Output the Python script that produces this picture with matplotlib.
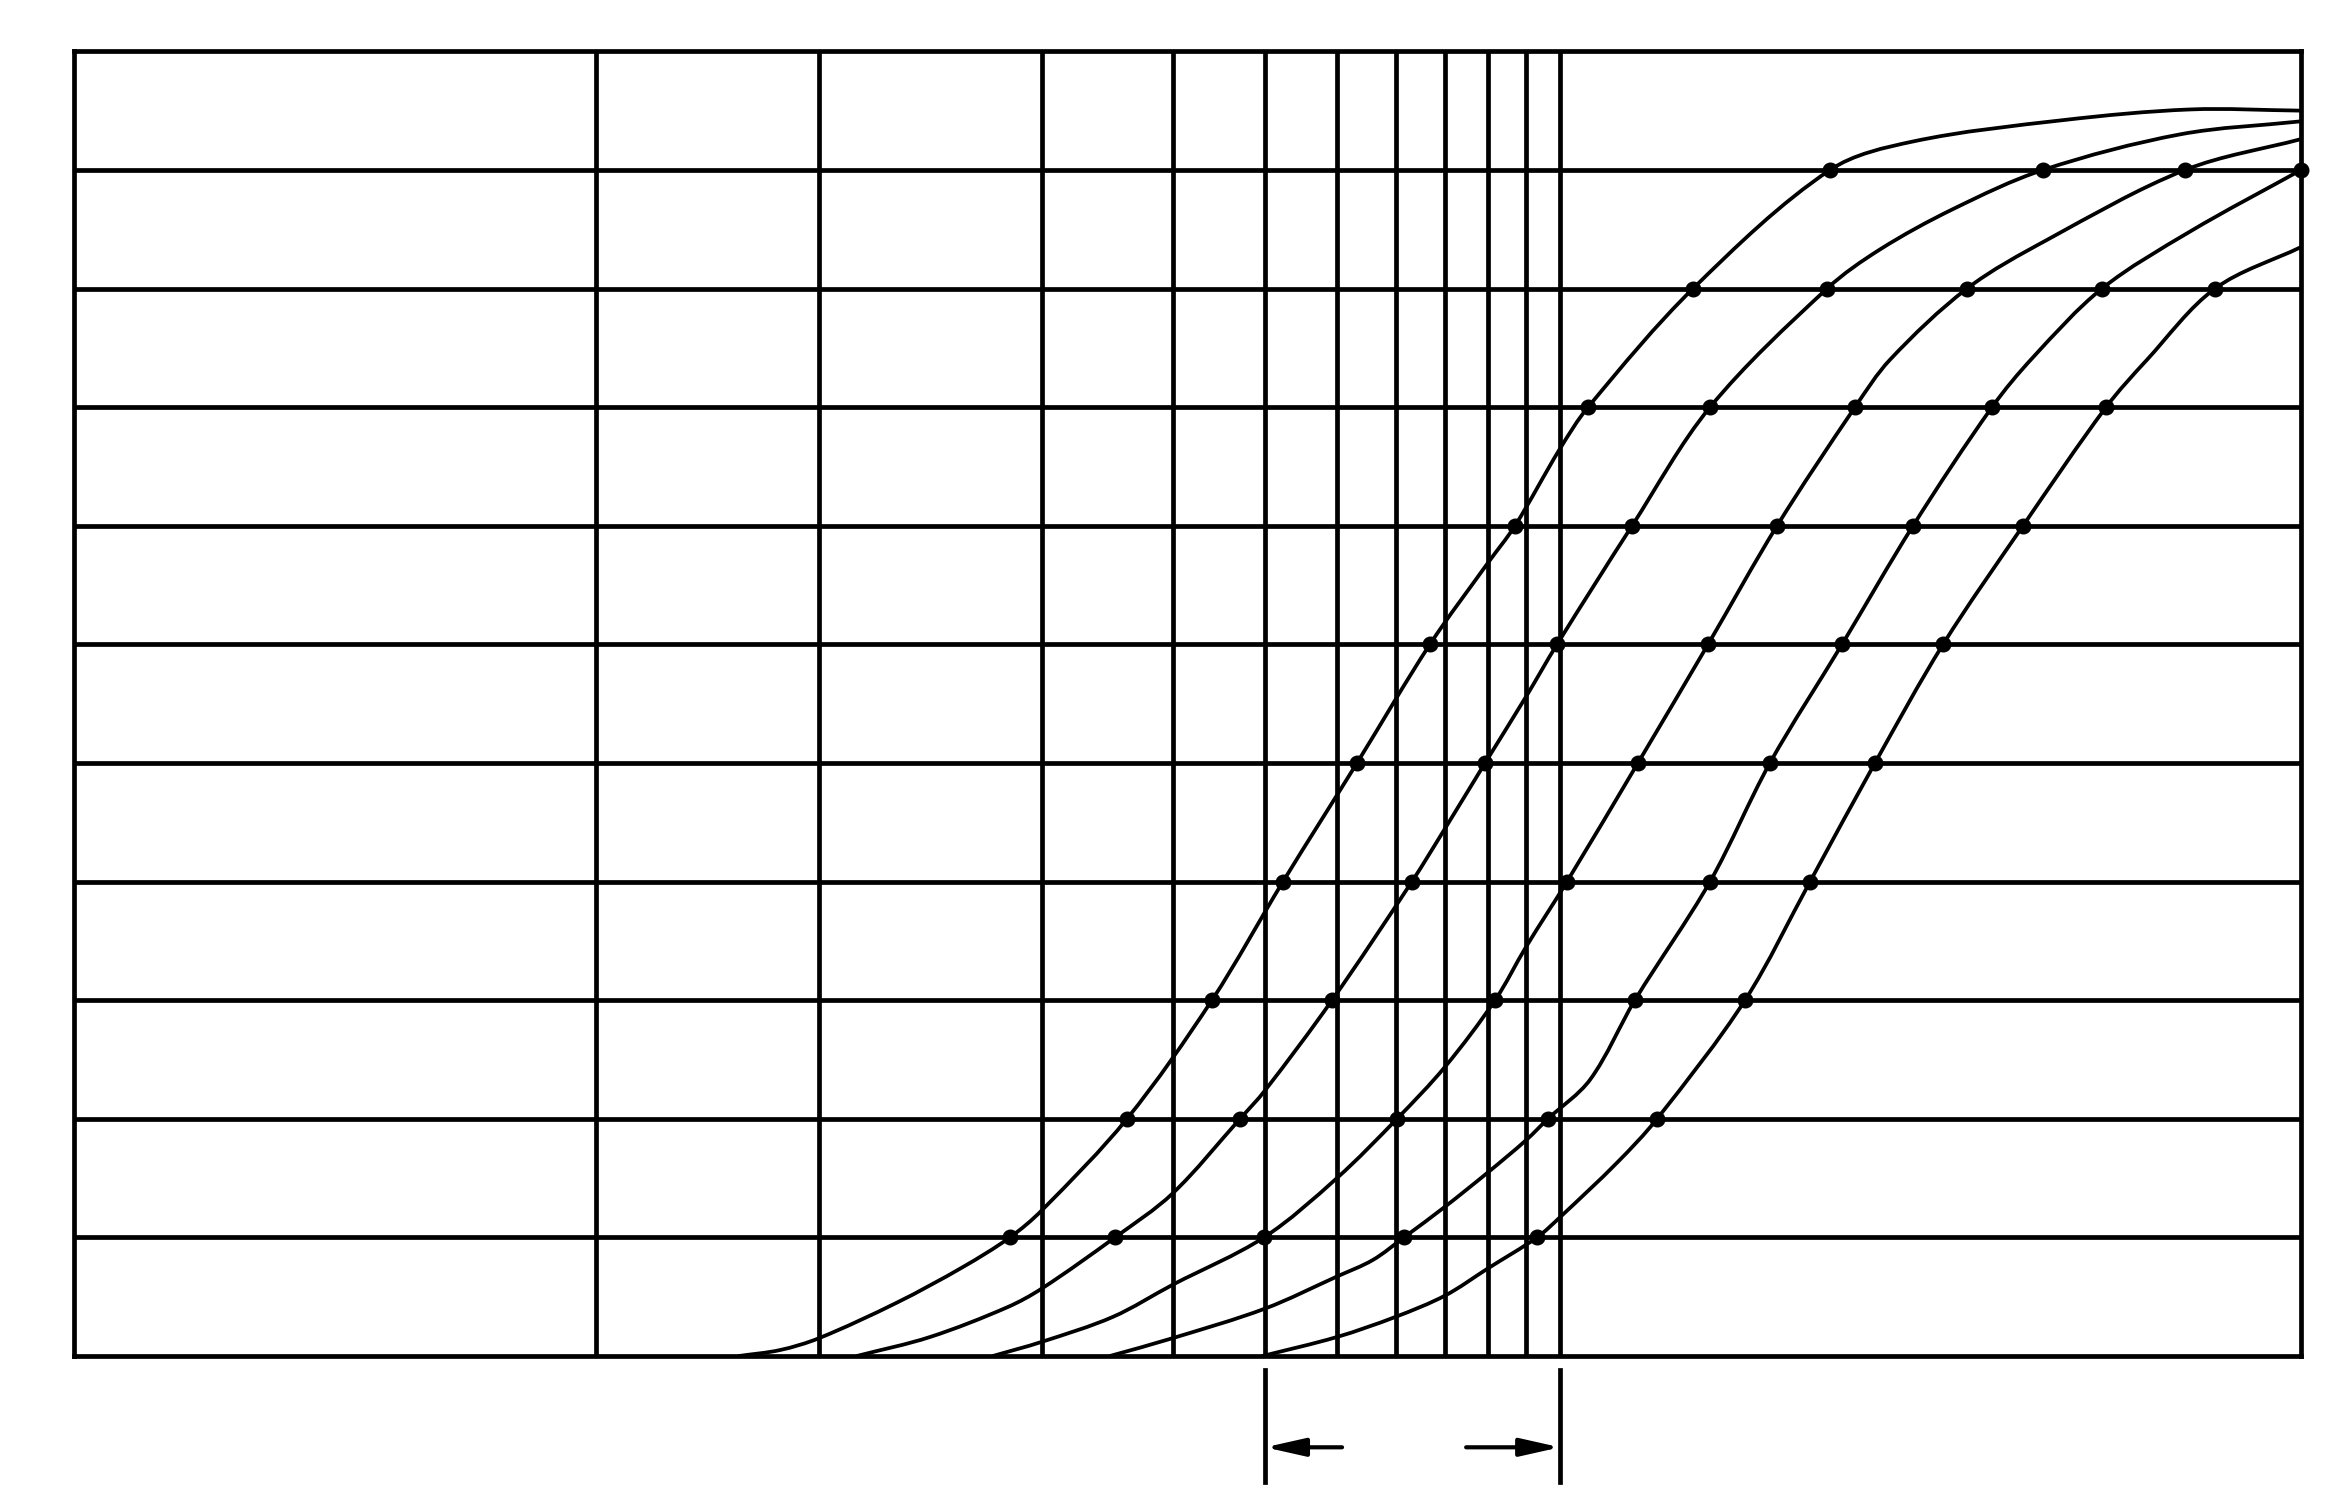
import numpy as np
import matplotlib
matplotlib.use('Agg')
import matplotlib.pyplot as plt
from matplotlib.path import Path
from matplotlib.patches import PathPatch

# vertical grid positions (log scale) and horizontal grid levels
x_lines = [0.5, 1, 2, 3, 4, 5, 6, 7, 8, 9, 10]
y_lines = list(range(1, 11))

# five S-curves, points (x on log axis, y in grid units)
c1_x = [0.78, 0.886, 1.0, 1.274, 1.564, 1.810, 2.0, 2.604, 3.391, 4.229,
        5.322, 6.675, 8.0, 8.695, 10.0, 10.91, 15.12, 23.14,
        29.95, 47.74, 70.8, 100]
c1_y = [0, 0.05, 0.15, 0.45, 0.75, 1, 1.23, 2, 3, 4,
        5, 6, 6.69, 7, 7.65, 8, 9, 10,
        10.24, 10.42, 10.51, 10.5]

c2_x = [1.125, 1.412, 1.794, 2.0, 2.509, 3.0, 3.700, 4.0, 4.925, 6.312, 7.0, 7.923, 9.0,
        9.908, 12.51, 15.94, 22.93, 27.03, 33.91, 44.86, 68.67, 100]
c2_y = [0, 0.16, 0.41, 0.57, 1, 1.37, 2, 2.24, 3, 4, 4.45, 5, 5.56,
        6, 7, 8, 9, 9.33, 9.67, 10, 10.3, 10.41]

c3_x = [1.717, 2.0, 2.493, 3.0, 3.986, 5.0, 6.026, 7.0, 8.173, 9.0, 10.22, 12.74,
        15.84, 19.63, 25.01, 27.88, 35.42, 45.41, 69.74, 100]
c3_y = [0, 0.12, 0.33, 0.6, 1, 1.5, 2, 2.44, 3, 3.45, 4, 5,
        6, 7, 8, 8.4, 9, 9.41, 10, 10.26]

c4_x = [2.470, 3.0, 4.0, 5.0, 5.592, 6.158, 7.0, 8.0, 9.0, 9.634, 10.98, 12.62,
        15.94, 19.20, 24.02, 29.95, 38.28, 43.48, 53.88, 70.8, 100]
c4_y = [0, 0.15, 0.40, 0.67, 0.81, 1, 1.26, 1.55, 1.82, 2, 2.33, 3,
        4, 5, 6, 7, 8, 8.42, 9, 9.48, 10]

c5_x = [3.97, 5.0, 6.0, 7.0, 8.0, 9.311, 10.0, 11.94, 13.52, 17.77, 21.75, 26.61, 32.88,
        42.15, 54.56, 61.97, 76.55, 100]
c5_y = [0, 0.16, 0.33, 0.51, 0.74, 1, 1.17, 1.63, 2, 3, 4, 5, 6,
        7, 8, 8.4, 9, 9.35]

curves = [(c1_x, c1_y), (c2_x, c2_y), (c3_x, c3_y), (c4_x, c4_y), (c5_x, c5_y)]

# dimension bracket under the axis
bracket_x = [4, 10]
bracket_y = [-0.12, -1.06]
arrow_y = -0.77
arrow_tail = [5.08, 7.47]

# aspect of one decade vs one grid unit on the sheet
DEC = 6.25


def smooth_path(xs, ys):
    # chord-length Catmull-Rom through the read points, as bezier segments
    u = np.log10(np.array(xs)) * DEC
    v = np.array(ys, dtype=float)
    p = np.column_stack([u, v])
    n = len(p)
    d = np.hypot(*np.diff(p, axis=0).T)
    m = np.zeros_like(p)
    m[0] = (p[1] - p[0]) / d[0]
    m[-1] = (p[-1] - p[-2]) / d[-1]
    for i in range(1, n - 1):
        m[i] = (p[i + 1] - p[i - 1]) / (d[i - 1] + d[i])
    verts = [p[0]]
    codes = [Path.MOVETO]
    for i in range(n - 1):
        verts += [p[i] + m[i] * d[i] / 3, p[i + 1] - m[i + 1] * d[i] / 3, p[i + 1]]
        codes += [Path.CURVE4] * 3
    verts = np.array(verts)
    verts[:, 0] = 10 ** (verts[:, 0] / DEC)
    return Path(verts, codes)


fig = plt.figure(figsize=(23.43, 15.10), dpi=100)
ax = fig.add_axes([0.0316, 0.102, 0.9505, 0.864])
ax.set_xscale('log')
ax.set_xlim(0.0988, 100)
ax.set_ylim(0, 11)

lw_grid = 3.4
for xv in x_lines:
    ax.axvline(xv, color='black', lw=lw_grid, zorder=1)
for yv in y_lines:
    ax.axhline(yv, color='black', lw=lw_grid, zorder=1)

for side in ax.spines.values():
    side.set_linewidth(lw_grid)
    side.set_color('black')
ax.set_xticks([])
ax.set_yticks([])
ax.minorticks_off()
ax.tick_params(which='both', length=0)

for cx, cy in curves:
    patch = PathPatch(smooth_path(cx, cy), transform=ax.transData, fill=False,
                      edgecolor='black', lw=2.7, zorder=2, capstyle='round')
    ax.add_patch(patch)
    cx = np.array(cx)
    cy = np.array(cy)
    dots = np.isin(cy, y_lines)
    ax.plot(cx[dots], cy[dots], 'o', color='black', ms=10.5, zorder=3, clip_on=False)

for bx in bracket_x:
    ax.plot([bx, bx], bracket_y, color='black', lw=lw_grid, clip_on=False)

for bx, tail in zip(bracket_x, arrow_tail):
    ax.annotate('', xy=(bx, arrow_y), xytext=(tail, arrow_y), annotation_clip=False,
                arrowprops=dict(arrowstyle='-|>,head_length=0.8,head_width=0.18',
                                mutation_scale=30, lw=3.0, color='black',
                                shrinkA=0, shrinkB=0))

fig.savefig('out.png', dpi=100, facecolor='white')
